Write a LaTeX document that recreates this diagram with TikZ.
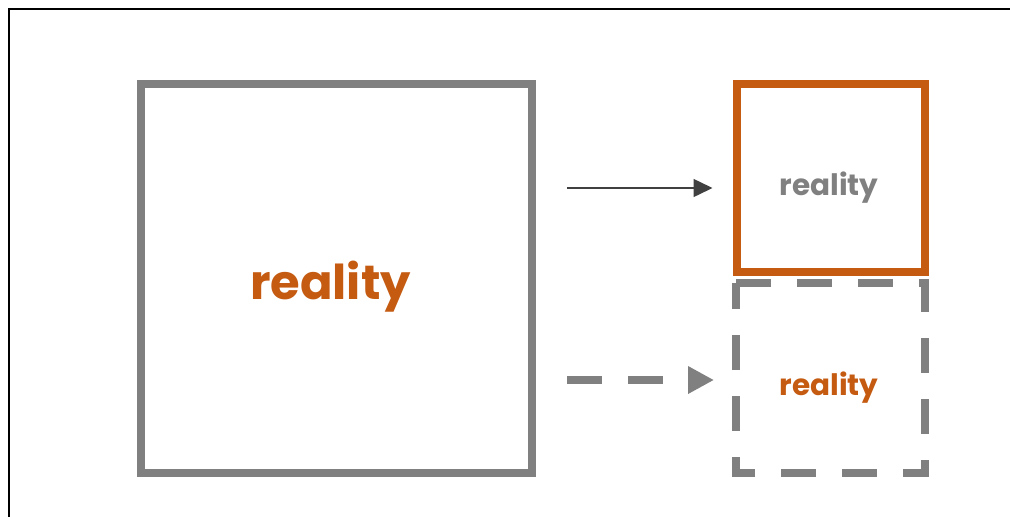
\documentclass[tikz,border=0pt]{standalone}
\usepackage{fontspec}
\setmainfont{Poppins}
\usetikzlibrary{arrows.meta}
\definecolor{boxgray}{RGB}{128,128,128}
\definecolor{rust}{RGB}{197,90,17}
\definecolor{inkgray}{RGB}{64,64,64}
\begin{document}
\begin{tikzpicture}[x=1pt,y=-1pt,
  bigbox/.style={draw=boxgray, line width=8pt, minimum width=391pt, minimum height=389pt,
    inner sep=0pt, text height=42pt, text depth=0pt, text=rust,
    font=\fontsize{48}{56}\selectfont\bfseries},
  smallbox/.style={line width=8pt, minimum width=188pt, minimum height=188pt,
    inner sep=0pt, text height=35pt, text depth=0pt,
    font=\fontsize{29.5}{36}\selectfont\bfseries},
  dashedge/.style={draw=boxgray, line width=8pt, dash pattern=on 35pt off 26pt},
  solidarrow/.style={draw=inkgray, line width=1.5pt, -{Triangle[length=19pt,width=18pt]}},
  dashedarrow/.style={draw=boxgray, line width=8pt, dash pattern=on 35pt off 26pt,
    -{Triangle[length=26pt,width=26pt]}}]
  % canvas and the open frame along the top and left
  \useasboundingbox (0,0) rectangle (1010,517);
  \fill[white] (0,0) rectangle (1010,517);
  \coordinate (frameTL) at (9,9);
  \coordinate (frameTR) at (1010,9);
  \coordinate (frameBL) at (9,517);
  \draw[black, line width=2.2pt] (frameTR) -- (frameTL) -- (frameBL);

  % the three boxes
  \node[bigbox] (big) at (336.5,278.5) {\hspace*{-12pt}reality};
  \node[smallbox, draw=rust, text=boxgray] (top) at (830.5,178) {\hspace*{-3pt}reality};
  \node[smallbox, text=rust, minimum width=189pt, minimum height=190pt, outer sep=0pt]
    (bot) at (830.5,378) {\hspace*{-3pt}reality};
  \draw[dashedge] (bot.north west) -- (bot.north east) -- (bot.south east)
    -- (bot.south west) -- cycle;

  % connectors
  \draw[solidarrow, shorten <=31pt, shorten >=20pt] (big.east |- 0,188) -- (top.west |- 0,188);
  \draw[dashedarrow, shorten <=31pt, shorten >=22pt] (big.east |- 0,380) -- (bot.west |- 0,380);
\end{tikzpicture}
\end{document}
